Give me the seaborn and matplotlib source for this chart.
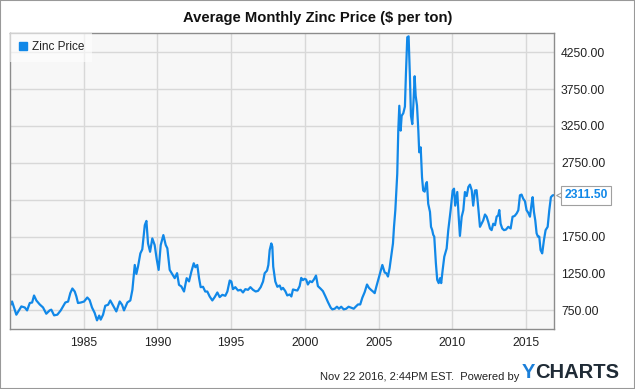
import matplotlib
matplotlib.use("Agg")
import matplotlib.pyplot as plt
from matplotlib.lines import Line2D
from matplotlib.patches import Rectangle
import matplotlib.transforms as mtransforms
import pandas as pd
import seaborn as sns

# decimal year positions and zinc price ($/ton)
years = [
    1980.05, 1980.14, 1980.43, 1980.77, 1981.0, 1981.16, 1981.34, 1981.5, 1981.63, 1981.79,
    1982.02, 1982.24, 1982.46, 1982.69, 1982.8, 1982.99, 1983.21, 1983.44, 1983.6, 1983.75,
    1983.94, 1984.09, 1984.23, 1984.39, 1984.5, 1984.61, 1984.8, 1985.02, 1985.24, 1985.4,
    1985.56, 1985.74, 1985.9, 1986.05, 1986.15, 1986.31, 1986.46, 1986.65, 1986.8, 1986.99,
    1987.21, 1987.44, 1987.6, 1987.73, 1987.96, 1988.16, 1988.3, 1988.46, 1988.57, 1988.68,
    1988.84, 1988.97, 1989.14, 1989.25, 1989.36, 1989.5, 1989.65, 1989.81, 1989.95, 1990.08,
    1990.22, 1990.4, 1990.56, 1990.67, 1990.83, 1990.99, 1991.17, 1991.33, 1991.46, 1991.62,
    1991.8, 1991.98, 1992.14, 1992.3, 1992.46, 1992.57, 1992.7, 1992.82, 1992.93, 1993.09,
    1993.24, 1993.38, 1993.54, 1993.72, 1993.88, 1994.06, 1994.22, 1994.4, 1994.6, 1994.74,
    1994.9, 1995.01, 1995.12, 1995.28, 1995.46, 1995.64, 1995.8, 1995.96, 1996.14, 1996.3,
    1996.48, 1996.66, 1996.82, 1997.0, 1997.16, 1997.27, 1997.43, 1997.52, 1997.61, 1997.72,
    1997.79, 1997.85, 1997.99, 1998.13, 1998.29, 1998.4, 1998.51, 1998.67, 1998.8, 1998.97,
    1999.08, 1999.19, 1999.35, 1999.49, 1999.64, 1999.75, 1999.86, 1999.97, 2000.08, 2000.2,
    2000.34, 2000.48, 2000.61, 2000.75, 2000.88, 2001.07, 2001.22, 2001.38, 2001.56, 2001.75,
    2001.86, 2002.02, 2002.17, 2002.31, 2002.46, 2002.63, 2002.8, 2002.96, 2003.14, 2003.31,
    2003.44, 2003.6, 2003.75, 2003.89, 2004.05, 2004.21, 2004.34, 2004.5, 2004.61, 2004.73,
    2004.84, 2005.0, 2005.14, 2005.25, 2005.41, 2005.52, 2005.63, 2005.74, 2005.85, 2005.97,
    2006.04, 2006.13, 2006.26, 2006.33, 2006.4, 2006.49, 2006.56, 2006.67, 2006.78, 2006.85,
    2006.94, 2007.03, 2007.12, 2007.19, 2007.28, 2007.35, 2007.44, 2007.51, 2007.6, 2007.69,
    2007.75, 2007.85, 2007.94, 2008.02, 2008.12, 2008.21, 2008.27, 2008.36, 2008.48, 2008.55,
    2008.63, 2008.7, 2008.77, 2008.88, 2008.97, 2009.07, 2009.16, 2009.24, 2009.34, 2009.45,
    2009.61, 2009.72, 2009.88, 2010.02, 2010.11, 2010.19, 2010.33, 2010.42, 2010.51, 2010.63,
    2010.74, 2010.85, 2010.97, 2011.08, 2011.19, 2011.31, 2011.41, 2011.53, 2011.64, 2011.75,
    2011.87, 2011.98, 2012.09, 2012.21, 2012.32, 2012.43, 2012.55, 2012.66, 2012.77, 2012.89,
    2013.0, 2013.11, 2013.18, 2013.27, 2013.38, 2013.5, 2013.63, 2013.79, 2013.95, 2014.08,
    2014.22, 2014.36, 2014.47, 2014.58, 2014.69, 2014.8, 2014.92, 2015.03, 2015.14, 2015.26,
    2015.37, 2015.44, 2015.53, 2015.62, 2015.71, 2015.8, 2015.89, 2015.98, 2016.09, 2016.21,
    2016.32, 2016.46, 2016.57, 2016.68, 2016.8, 2016.89,
]
prices = [
    827, 871, 692, 804, 790, 750, 850, 857, 952, 884,
    830, 790, 705, 750, 760, 683, 692, 750, 804, 857,
    870, 985, 1047, 1006, 940, 850, 857, 870, 925, 890,
    790, 717, 615, 680, 625, 692, 813, 826, 885, 817,
    736, 871, 826, 750, 858, 885, 1029, 1366, 1245, 1343,
    1523, 1577, 1905, 1963, 1658, 1545, 1726, 1636, 1443, 1299,
    1636, 1771, 1636, 1592, 1299, 1245, 1187, 1255, 1096, 1075,
    1006, 1187, 1143, 1276, 1389, 1335, 1366, 1187, 1065, 1070,
    1006, 1006, 939, 885, 930, 993, 930, 961, 948, 1006,
    1155, 1142, 1038, 1065, 1020, 1029, 993, 1038, 1029, 1065,
    1029, 1006, 1015, 1065, 1142, 1254, 1290, 1366, 1568, 1658,
    1613, 1343, 1142, 1070, 1088, 1034, 1056, 1011, 953, 966,
    939, 1034, 1025, 1020, 1079, 1191, 1160, 1178, 1169, 1101,
    1146, 1133, 1169, 1222, 1079, 1043, 1011, 944, 863, 786,
    764, 773, 800, 773, 800, 764, 773, 800, 786, 773,
    800, 831, 831, 921, 997, 1101, 1056, 1025, 1007, 984,
    1070, 1187, 1290, 1366, 1263, 1254, 1209, 1321, 1478, 1658,
    1883, 2108, 2600, 3187, 3524, 3187, 3388, 3422, 3512, 3960,
    4452, 4465, 3915, 3388, 3275, 3524, 3924, 3658, 3524, 3187,
    2893, 2960, 2555, 2375, 2360, 2465, 2490, 2195, 2085, 1883,
    1840, 1775, 1750, 1389, 1164, 1120, 1187, 1120, 1299, 1478,
    1590, 1838, 2108, 2375, 2400, 2170, 2355, 2040, 1760, 2020,
    2108, 2355, 2300, 2422, 2455, 2380, 2170, 2375, 2380, 2150,
    1883, 1925, 1970, 2050, 2020, 1950, 1860, 1838, 1925, 1905,
    2020, 2040, 2110, 1925, 1860, 1838, 1845, 1883, 1860, 2020,
    2030, 2065, 2108, 2310, 2320, 2265, 2230, 2108, 2075, 2020,
    2195, 2285, 2085, 1970, 1795, 1750, 1750, 1568, 1523, 1706,
    1838, 1883, 2108, 2285, 2310, 2311.5,
]
x_ticks = [1985, 1990, 1995, 2000, 2005, 2010, 2015]
y_ticks = [750, 1250, 1750, 2250, 2750, 3250, 3750, 4250]
hidden_y_label = 2250  # covered by the last-value tag

BLUE = "#1188e8"

sns.set_style("white")
plt.rcParams["font.family"] = ["Liberation Sans", "DejaVu Sans"]

df = pd.DataFrame({"year": years, "price": prices})

fig = plt.figure(figsize=(6.35, 3.89), dpi=100)
ax = fig.add_axes([10 / 635, 1 - 329 / 389, 544 / 635, 296 / 389])
ax.set_facecolor("#f7f7f7")

sns.lineplot(data=df, x="year", y="price", ax=ax, color=BLUE, linewidth=1.6)

ax.set_xlim(1980.0, 2016.89)
ax.set_ylim(498, 4510)
ax.set_xticks(x_ticks)
ax.set_xticklabels([str(t) for t in x_ticks])
ax.set_yticks(y_ticks)
ax.set_yticklabels(["" if t == hidden_y_label else f"{t:.2f}" for t in y_ticks])
ax.yaxis.tick_right()
ax.tick_params(axis="both", length=0, labelsize=8.7, colors="#222222")
ax.tick_params(axis="y", pad=5)
ax.tick_params(axis="x", pad=6)
ax.grid(True, color="#d8d8d8", linewidth=1)
ax.set_axisbelow(True)
ax.set_xlabel("")
ax.set_ylabel("")
for sp in ax.spines.values():
    sp.set_color("#8c8c8c")
    sp.set_linewidth(1)

handle = Line2D([], [], marker="s", linestyle="", color=BLUE, markersize=6)
leg = ax.legend(handles=[handle], labels=["Zinc Price"], loc="upper left",
                bbox_to_anchor=(0, 1), borderaxespad=0, frameon=True,
                fancybox=False, facecolor="white", framealpha=0.6,
                edgecolor="none", fontsize=8.5, handletextpad=0.35,
                borderpad=0.7, handlelength=0.8)
for t in leg.get_texts():
    t.set_color("#222222")

# last value tag
ax.annotate(f"{prices[-1]:.2f}", xy=(years[-1], prices[-1]), xytext=(7.5, 0),
            textcoords="offset points", va="center", ha="left",
            fontsize=8.7, fontweight="bold", color=BLUE, annotation_clip=False,
            bbox=dict(boxstyle="square,pad=0.3", fc="white", ec="#a0a0a0", lw=0.8))
ax.plot([years[-1]], [prices[-1]], marker="<", markersize=5, color="white",
        markeredgecolor="#a0a0a0", markeredgewidth=0.8, clip_on=False,
        transform=ax.transData + mtransforms.ScaledTranslation(3.5 / 72, 0, fig.dpi_scale_trans))

fig.text(0.5, 1 - 18 / 389, "Average Monthly Zinc Price ($ per ton)", ha="center",
         va="center", fontsize=10.6, fontweight="bold", color="#111111")

fig.text(519 / 635, 1 - 377 / 389, "Nov 22 2016, 2:44PM EST.  Powered by", ha="right",
         va="center", fontsize=8, color="#222222")
fig.text(522 / 635, 1 - 373 / 389, "Y", ha="left", va="center", fontsize=14.5,
         fontweight="bold", color="#1b7fd9")
fig.text(535 / 635, 1 - 373 / 389, "CHARTS", ha="left", va="center", fontsize=14.5,
         fontweight="bold", color="#1f2b36")

fig.patches.append(Rectangle((0, 0), 1, 1, transform=fig.transFigure, fill=False,
                             ec="#999999", lw=1.5))

fig.savefig("out.png", dpi=100)
